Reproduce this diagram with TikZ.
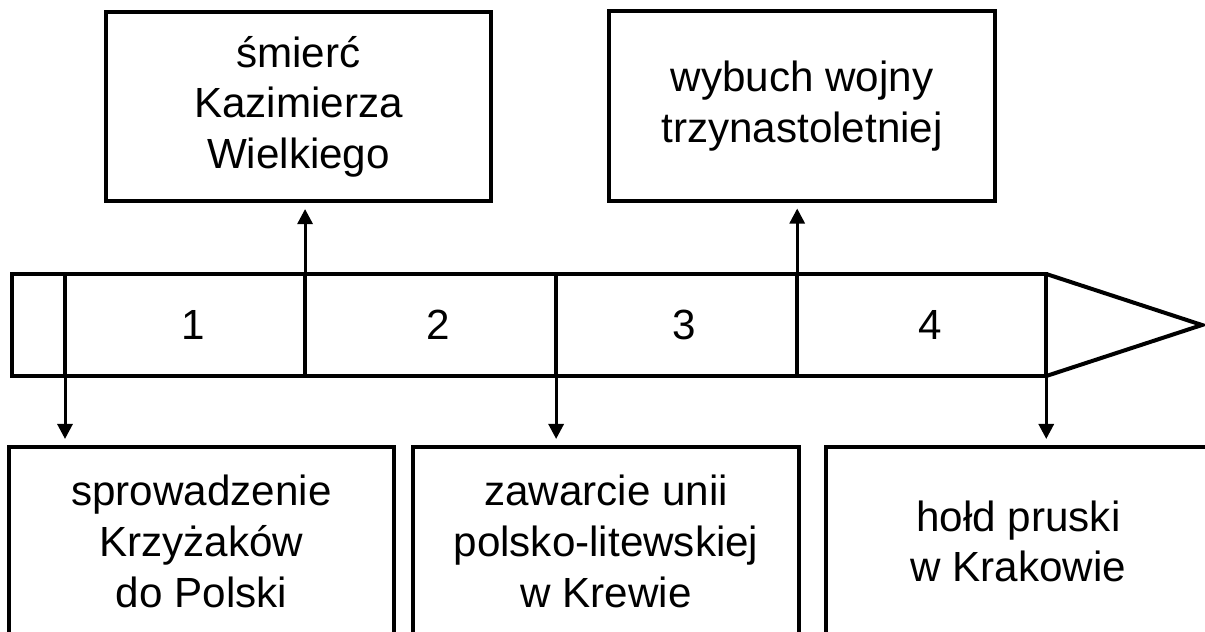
\documentclass[tikz,border=0pt]{standalone}
\usepackage{fontspec}
\setmainfont{Liberation Sans}
\usetikzlibrary{positioning,arrows.meta}
\begin{document}
\begin{tikzpicture}[x=0.025cm,y=-0.025cm,
event/.style={draw,line width=0.1cm,outer sep=0pt,align=center,minimum width=9.625cm,minimum height=4.725cm,font=\fontsize{30}{36}\selectfont},
seg/.style={draw,line width=0.1cm,outer sep=0pt,inner sep=0pt,minimum height=2.55cm},
num/.style={font=\fontsize{30}{36}\selectfont},
arr/.style={line width=0.075cm,-{Triangle[length=0.375cm,width=0.375cm]},shorten >=0.2cm}]
	\useasboundingbox (0,0) rectangle (1205,632);
	\node[seg,minimum width=1.325cm] (s0) at (38.5,325) {};
	\node[seg,minimum width=6cm,right=0pt of s0] (s1) {};
	\node[seg,minimum width=6.275cm,right=0pt of s1] (s2) {};
	\node[seg,minimum width=6.025cm,right=0pt of s2] (s3) {};
	\node[seg,minimum width=6.225cm,right=0pt of s3] (s4) {};
	\foreach \i in {1,...,4}
		\node[num,xshift=0.2cm] (n\i) at (s\i) {\i};
	\coordinate (tip) at (1202,325);
	\draw[line width=0.1cm] (s4.north east) -- (tip) -- (s4.south east);
	\node[event] (smierc) at (298.5,106.5) {śmierć\\Kazimierza\\Wielkiego};
	\node[event] (wojna) at (802,106) {wybuch wojny\\trzynastoletniej};
	\node[event] (krzyzacy) at (201.5,541.5) {sprowadzenie\\Krzyżaków\\do Polski};
	\node[event] (unia) at (606,541.5) {zawarcie unii\\polsko-litewskiej\\w Krewie};
	\node[event] (hold) at (1018.5,541.5) {hołd pruski\\w Krakowie};
	\draw[arr] (s1.north east) -- (s1.north east |- smierc.south);
	\draw[arr] (s3.north east) -- (s3.north east |- wojna.south);
	\draw[arr] (s0.south east) -- (s0.south east |- krzyzacy.north);
	\draw[arr] (s2.south east) -- (s2.south east |- unia.north);
	\draw[arr] (s4.south east) -- (s4.south east |- hold.north);
\end{tikzpicture}
\end{document}
